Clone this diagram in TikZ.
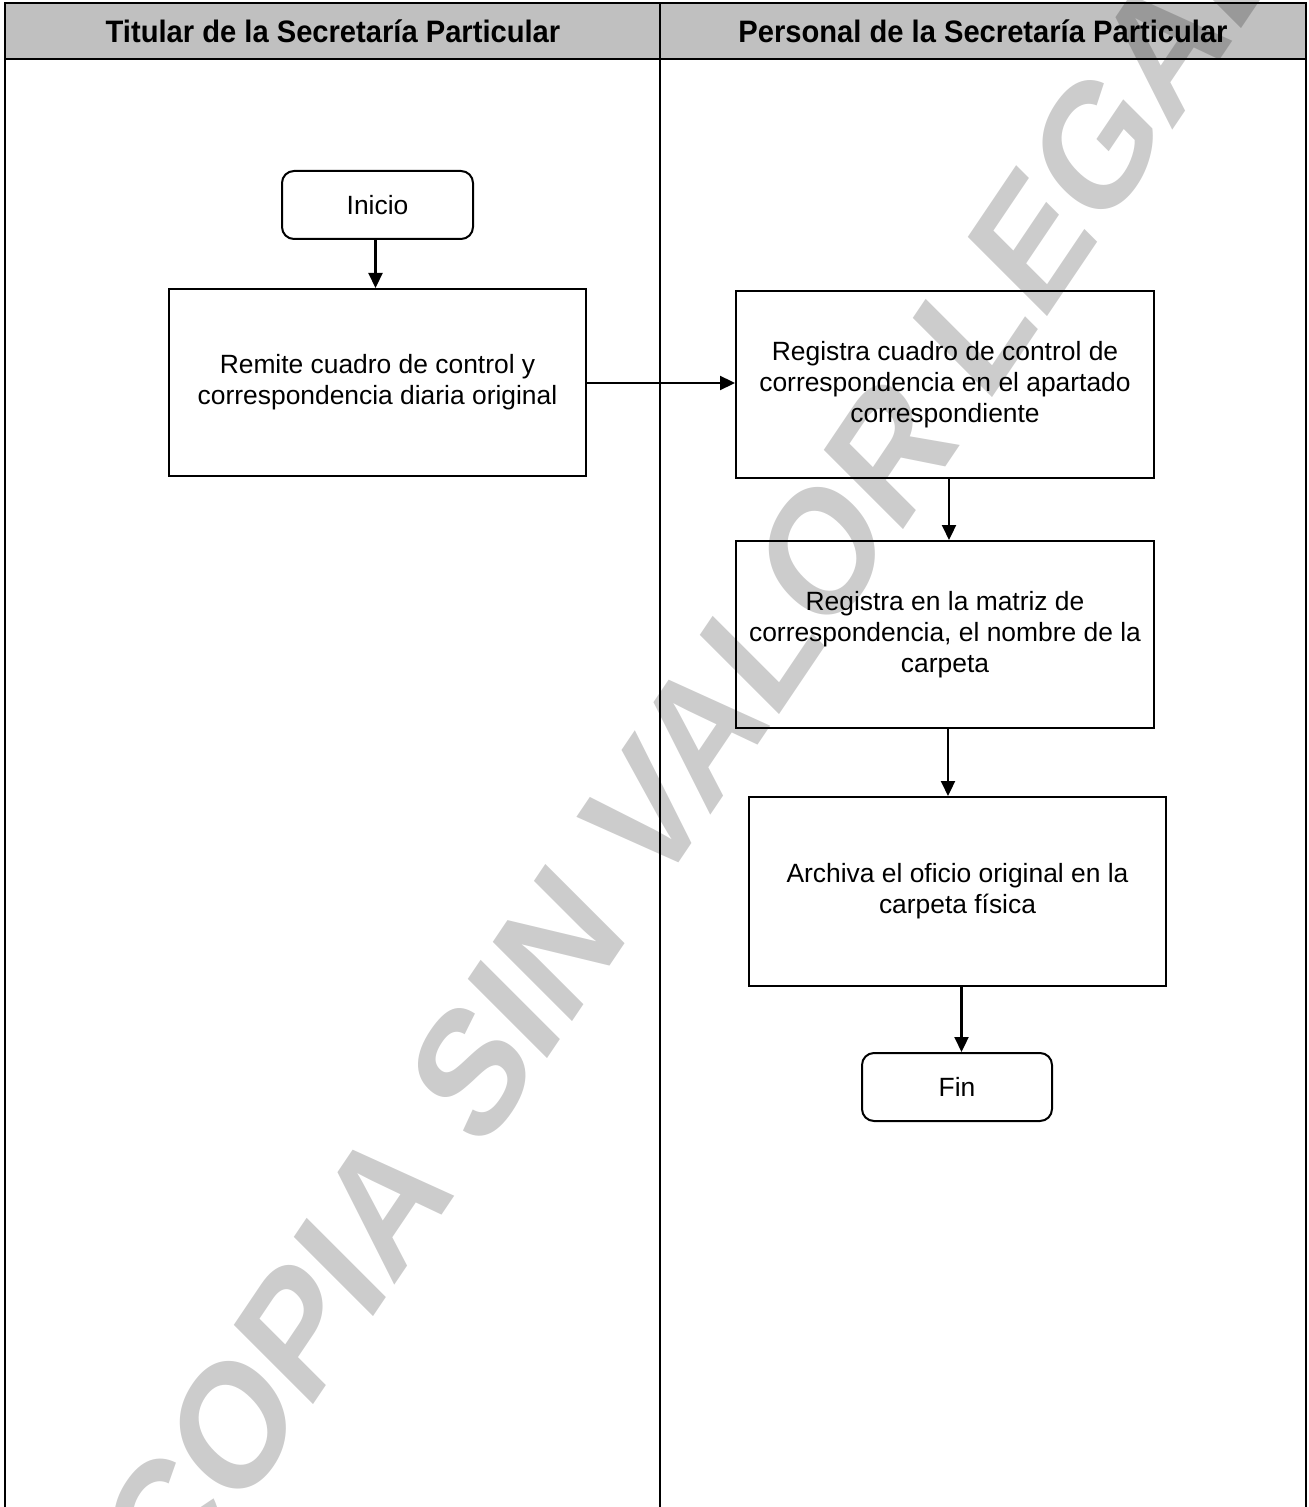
\documentclass[tikz,border=0pt]{standalone}
\usepackage{fontspec}
\setmainfont{Liberation Sans}
\newfontfamily\hdrfont[FakeStretch=0.94]{Liberation Sans}
\usetikzlibrary{arrows.meta}
\definecolor{hdrgray}{HTML}{C0C0C0}
\begin{document}
\begin{tikzpicture}[x=0.5pt,y=-0.5pt,
  box/.style={draw,line width=1pt,minimum width=208.5pt,minimum height=93.5pt,inner sep=0pt,align=center,font=\fontsize{13.2pt}{15.5pt}\selectfont},
  term/.style={draw,line width=1pt,rounded corners=6pt,minimum width=95.5pt,minimum height=34pt,inner sep=0pt,font=\fontsize{13.2pt}{15.5pt}\selectfont},
  arr/.style={line width=1.1pt,-{Triangle[length=7.5pt,width=7pt]}},
  lane/.style={line width=1.4pt},
  hdr/.style={font=\hdrfont\bfseries\fontsize{15.5pt}{18pt}\selectfont,inner sep=0pt},
  wm/.style={text=black,text opacity=0.2,font=\bfseries\fontsize{80pt}{86pt}\selectfont,inner sep=0pt}]
\useasboundingbox (0,0) rectangle (1308,1507);
\clip (0,0) rectangle (1308,1507);
\fill[white] (0,0) rectangle (1308,1507);
% lanes and header
\fill[hdrgray] (5,3) rectangle (1306,59);
\draw[lane] (5,1510) -- (5,3) -- (1306,3) -- (1306,1510);
\draw[lane] (5,59) -- (1306,59);
\draw[lane] (660,3) -- (660,1510);
\node[hdr] (h1) at (333,31) {Titular de la Secretaría Particular};
\node[hdr] (h2) at (983,31) {Personal de la Secretaría Particular};
% nodes
\node[term] (ini) at (377.5,205) {Inicio};
\node[box] (rem) at (377.5,382.5) {Remite cuadro de control y\\correspondencia diaria original};
\node[box,minimum width=209pt] (r1) at (945,384.5) {Registra cuadro de control de\\correspondencia en el apartado\\correspondiente};
\node[box,minimum width=209pt] (r2) at (945,634.5) {Registra en la matriz de\\correspondencia, el nombre de la\\carpeta};
\node[box,minimum height=94.5pt] (arch) at (957.5,891.5) {Archiva el oficio original en la\\carpeta física};
\node[term,minimum width=95pt] (fin) at (957,1087) {Fin};
% connectors
\draw[arr] ([xshift=-1pt]ini.south) -- ([xshift=-1pt]ini.south |- rem.north);
\draw[arr] ([yshift=-0.25pt]rem.east) -- ([yshift=-0.25pt]rem.east -| r1.west);
\draw[arr] ([xshift=2pt]r1.south) -- ([xshift=2pt]r1.south |- r2.north);
\draw[arr] ([xshift=1.5pt]r2.south) -- ([xshift=1.5pt]r2.south |- arch.north);
\draw[arr] ([xshift=2pt]arch.south) -- ([xshift=2pt]arch.south |- fin.north);
% watermark
\node[wm,cm={0.559,0.829,-0.720,0.720,(0,0)}] (wmark) at (692,745) {COPIA SIN VALOR LEGAL};
\end{tikzpicture}
\end{document}
